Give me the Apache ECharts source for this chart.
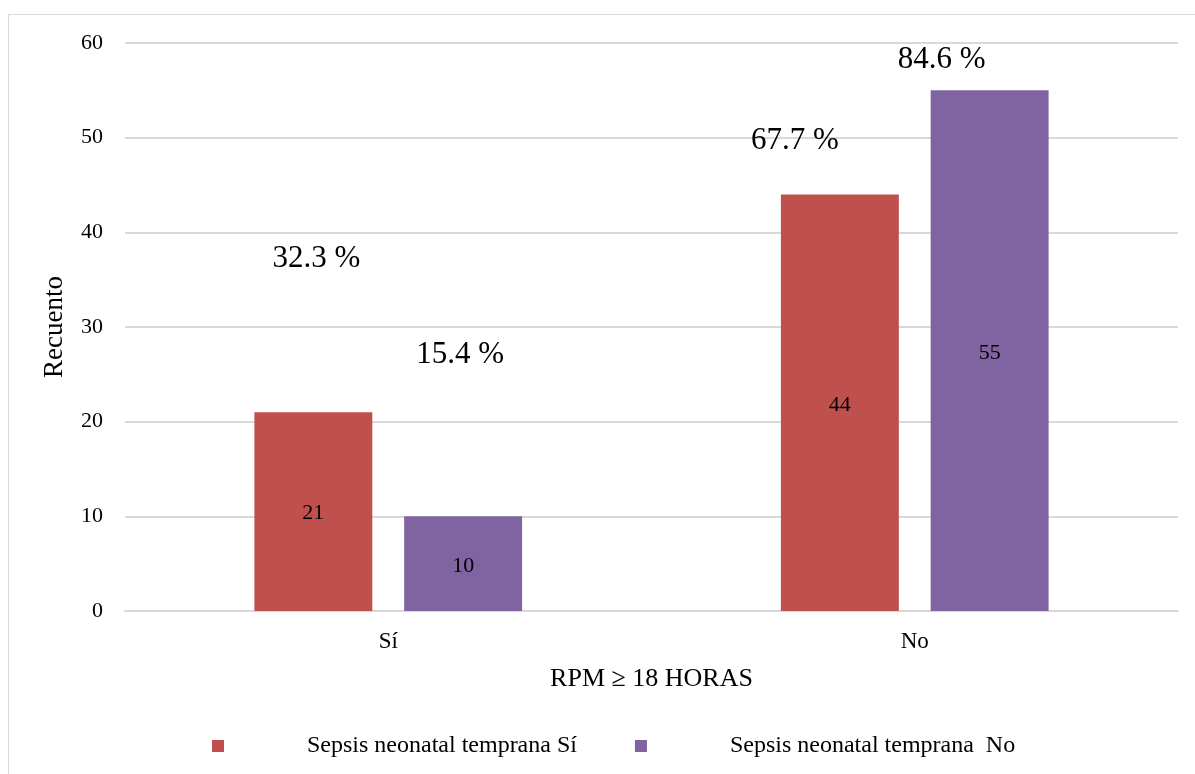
<!DOCTYPE html>
<html>
<head>
<meta charset="utf-8">
<script src="https://cdn.jsdelivr.net/npm/echarts@6/dist/echarts.min.js"></script>
<style>
html,body{margin:0;padding:0;background:#fff;}
#wrap{position:relative;width:1195px;height:774px;overflow:hidden;}
#frame{position:absolute;left:8px;top:14px;width:1300px;height:900px;border:1px solid #d9d9d9;box-sizing:border-box;}
#chart{position:absolute;left:0;top:0;width:1195px;height:774px;}
</style>
</head>
<body>
<div id="wrap"><div id="frame"></div><div id="chart"></div></div>
<script>
const categories = ['Sí', 'No'];
const seriesNames = ['Sepsis neonatal temprana Sí', 'Sepsis neonatal temprana  No'];
const countsSepsisSi = [21, 44];
const countsSepsisNo = [10, 55];
const pctSepsisSi = [32.3, 67.7];
const pctSepsisNo = [15.4, 84.6];
const yTicks = [0, 10, 20, 30, 40, 50, 60];

const FONT = '"Liberation Serif", "Times New Roman", serif';
const RED = '#C0504D';
const PURPLE = '#8064A2';
const BAR_W = '22.4%';
const BAR_GAP = '27%';

// label nudges (styling only)
const offSi = [[3, -133], [-45, -33]];
const offNo = [[-3, -141], [-48, -10]];

function pctItems(counts, pcts, offs) {
  return counts.map((v, i) => ({
    value: v,
    label: { offset: offs[i], formatter: pcts[i].toFixed(1) + ' %' }
  }));
}

const chart = echarts.init(document.getElementById('chart'), null, { renderer: 'canvas' });
chart.setOption({
  animation: false,
  textStyle: { fontFamily: FONT },
  grid: { left: 125, right: 17, top: 43, bottom: 163 },
  legend: {
    data: seriesNames,
    bottom: 11,
    left: 207,
    icon: 'rect',
    itemWidth: 12,
    itemHeight: 12,
    itemGap: 58,
    textStyle: { fontFamily: FONT, fontSize: 24, color: '#000', padding: [0, 0, 0, 78] }
  },
  xAxis: [
    {
      type: 'category',
      data: categories,
      axisLine: { lineStyle: { color: '#d9d9d9', width: 2 } },
      axisTick: { show: false },
      axisLabel: { fontFamily: FONT, fontSize: 23, color: '#000', margin: 19 },
      name: 'RPM ≥ 18 HORAS',
      nameLocation: 'middle',
      nameGap: 55,
      nameTextStyle: { fontFamily: FONT, fontSize: 26, color: '#000' }
    },
    { type: 'category', data: categories, show: false }
  ],
  yAxis: {
    type: 'value',
    min: 0, max: 60, interval: 10,
    axisLine: { show: false },
    axisTick: { show: false },
    splitLine: { lineStyle: { color: '#d9d9d9', width: 2 } },
    axisLabel: { fontFamily: FONT, fontSize: 22, color: '#000', margin: 22,
      formatter: v => yTicks.includes(v) ? String(v) : '' },
    name: 'Recuento',
    nameLocation: 'middle',
    nameGap: 57,
    nameTextStyle: { fontFamily: FONT, fontSize: 27, color: '#000' }
  },
  series: [
    {
      name: seriesNames[0], type: 'bar', data: countsSepsisSi,
      barWidth: BAR_W, barGap: BAR_GAP,
      itemStyle: { color: RED },
      label: { show: true, position: 'inside', offset: [0, 2], fontFamily: FONT, fontSize: 22, color: '#000' }
    },
    {
      name: seriesNames[1], type: 'bar', data: countsSepsisNo,
      barWidth: BAR_W, barGap: BAR_GAP,
      itemStyle: { color: PURPLE },
      label: { show: true, position: 'inside', offset: [0, 3], fontFamily: FONT, fontSize: 22, color: '#000' }
    },
    {
      name: 'pctSi', type: 'bar', xAxisIndex: 1, silent: true,
      data: pctItems(countsSepsisSi, pctSepsisSi, offSi),
      barWidth: BAR_W, barGap: BAR_GAP,
      itemStyle: { color: 'rgba(0,0,0,0)' },
      label: { show: true, position: 'top', fontFamily: FONT, fontSize: 31, color: '#000' }
    },
    {
      name: 'pctNo', type: 'bar', xAxisIndex: 1, silent: true,
      data: pctItems(countsSepsisNo, pctSepsisNo, offNo),
      barWidth: BAR_W, barGap: BAR_GAP,
      itemStyle: { color: 'rgba(0,0,0,0)' },
      label: { show: true, position: 'top', fontFamily: FONT, fontSize: 31, color: '#000' }
    }
  ]
});
</script>
</body>
</html>
